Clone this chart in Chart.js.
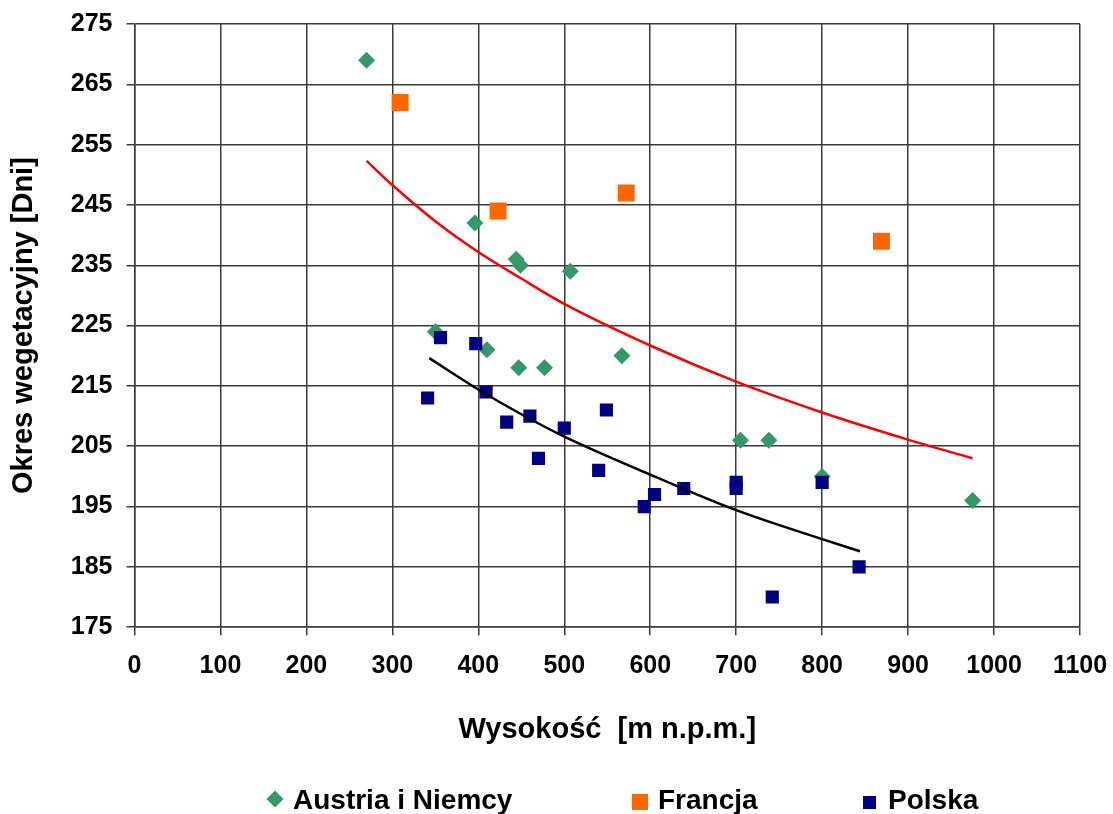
<!DOCTYPE html>
<html>
<head>
<meta charset="utf-8">
<script src="https://cdn.jsdelivr.net/npm/chart.js@4/dist/chart.umd.min.js"></script>
<style>
  html, body { margin: 0; padding: 0; background: #fff; }
  #wrap { position: relative; width: 1113px; height: 814px; }
  #c { position: absolute; left: 0; top: 0; }
  .lg { position: absolute; font: bold 28px "Liberation Sans", Arial, sans-serif; line-height: 28px; color: #000; white-space: nowrap; }
  .mk { position: absolute; }
</style>
</head>
<body>
<div id="wrap">
  <canvas id="c" width="1113" height="814"></canvas>
  <div class="mk" style="left:269px;top:793px;width:12px;height:12px;background:#339966;transform:rotate(45deg);"></div>
  <div class="lg" style="left:293px;top:786px;">Austria i Niemcy</div>
  <div class="mk" style="left:632px;top:794px;width:16px;height:16px;background:#FF6600;"></div>
  <div class="lg" style="left:658px;top:786px;">Francja</div>
  <div class="mk" style="left:863px;top:796px;width:13px;height:13px;background:#000080;"></div>
  <div class="lg" style="left:888px;top:786px;">Polska</div>
</div>
<script>
// Austria i Niemcy
const austriaX = [270, 396, 444, 449, 507, 350, 410, 447, 477, 567, 705, 738, 800, 975];
const austriaY = [269, 242, 236, 235, 234, 224, 221, 218, 218, 220, 206, 206, 200, 196];
// Francja
const franceX = [309, 423, 572, 869];
const franceY = [262, 244, 247, 239];
// Polska
const polandX = [356, 397, 341, 409, 433, 460, 500, 470, 549, 540, 593, 605, 639, 700, 700, 800, 843, 742];
const polandY = [223, 222, 213, 214, 209, 210, 208, 203, 211, 201, 195, 197, 198, 199, 198, 199, 185, 180];
// trend lines
const redTrendX = [270, 300, 350, 400, 450, 500, 600, 700, 800, 900, 975];
const redTrendY = [252.3, 248.3, 242.3, 237.2, 232.8, 228.6, 221.7, 215.7, 210.6, 206.1, 203.0];
const blackTrendX = [343, 400, 450, 500, 600, 700, 800, 844];
const blackTrendY = [219.6, 214.4, 210.3, 206.6, 200.3, 194.4, 189.6, 187.6];

const xTitle = 'Wysokość  [m n.p.m.]';
const yTitle = 'Okres wegetacyjny [Dni]';

function pts(xs, ys) { return xs.map((x, i) => ({ x: x, y: ys[i] })); }

const FONT = '"Liberation Sans", Arial, sans-serif';
const gridCol = '#3a3a3a';
function noEdgePadding(scale) {
  scale.paddingTop = 0; scale.paddingBottom = 0; scale.paddingLeft = 0; scale.paddingRight = 0;
}

new Chart(document.getElementById('c'), {
  type: 'scatter',
  data: {
    datasets: [
      { label: 'trend1', data: pts(redTrendX, redTrendY), showLine: true, borderColor: '#FF0000', borderWidth: 2.5, pointRadius: 0, tension: 0.4, cubicInterpolationMode: 'monotone', fill: false },
      { label: 'trend2', data: pts(blackTrendX, blackTrendY), showLine: true, borderColor: '#000000', borderWidth: 2.5, pointRadius: 0, tension: 0.4, cubicInterpolationMode: 'monotone', fill: false },
      { label: 'Polska', data: pts(polandX, polandY), pointStyle: 'rect', pointRadius: 9.3, backgroundColor: '#000080', borderColor: '#000080', borderWidth: 0 },
      { label: 'Francja', data: pts(franceX, franceY), pointStyle: 'rect', pointRadius: 12, backgroundColor: '#FF6600', borderColor: '#FF6600', borderWidth: 0 },
      { label: 'Austria i Niemcy', data: pts(austriaX, austriaY), pointStyle: 'rectRot', pointRadius: 8.5, backgroundColor: '#339966', borderColor: '#339966', borderWidth: 0 }
    ]
  },
  options: {
    responsive: false,
    animation: false,
    events: [],
    layout: { padding: { left: 7, right: 33, top: 24, bottom: 67 } },
    plugins: { legend: { display: false }, tooltip: { enabled: false } },
    scales: {
      x: {
        type: 'linear', min: 0, max: 1100,
        afterFit: noEdgePadding,
        ticks: { stepSize: 100, color: '#000', font: { family: FONT, size: 25, weight: 'bold' }, padding: 16, maxRotation: 0, autoSkip: false, callback: v => String(v) },
        grid: { color: gridCol, lineWidth: 1.5, tickLength: 8, tickColor: gridCol },
        border: { color: gridCol, width: 1.5 },
        title: { display: true, text: xTitle, color: '#000', font: { family: FONT, size: 29, weight: 'bold' }, padding: { top: 15, bottom: 0 } }
      },
      y: {
        type: 'linear', min: 175, max: 275,
        afterFit: noEdgePadding,
        ticks: { stepSize: 10, color: '#000', font: { family: FONT, size: 25, weight: 'bold' }, padding: 14, callback: v => String(v) },
        grid: { color: gridCol, lineWidth: 1.5, tickLength: 8, tickColor: gridCol },
        border: { color: gridCol, width: 1.5 },
        title: { display: true, text: yTitle, color: '#000', font: { family: FONT, size: 29, weight: 'bold' }, padding: { top: 0, bottom: 15 } }
      }
    }
  }
});
</script>
</body>
</html>
